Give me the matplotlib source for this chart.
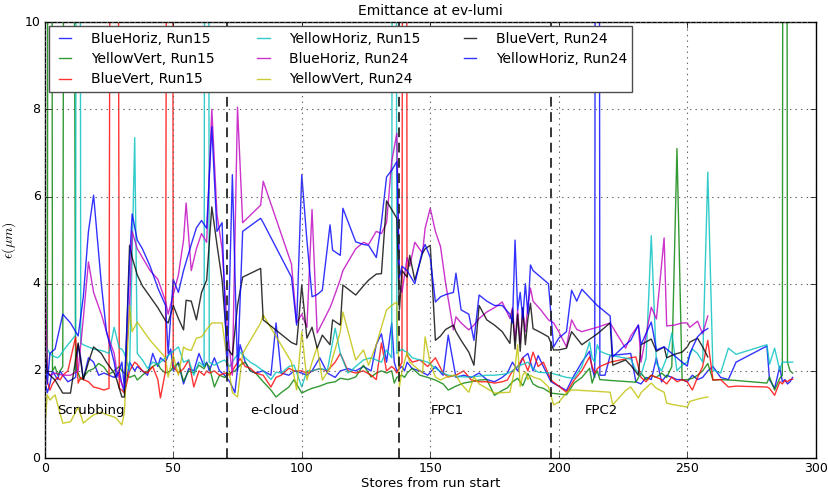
import matplotlib
matplotlib.use('Agg')
import matplotlib.pyplot as plt

plt.style.use('classic')

# store indices (stores from run start) for each run
stores15 = [0, 1, 2, 3, 4, 5, 6, 7, 9, 12,
            13, 14, 15, 17, 19, 21, 23, 25, 27, 29,
            30, 31, 33, 35, 36, 38, 40, 42, 44, 45,
            47, 49, 50, 52, 54, 56, 58, 60, 62, 63,
            64, 66, 68, 70, 72, 74, 76, 78, 80, 82,
            85, 88, 90, 92, 95, 97, 100, 102, 104, 107,
            110, 113, 115, 118, 121, 124, 127, 129, 131, 133,
            135, 136, 137, 139, 140, 141, 143, 146, 149, 152,
            155, 157, 160, 163, 166, 169, 172, 175, 178, 180,
            182, 184, 186, 188, 190, 192, 194, 197, 203, 206,
            209, 212, 213, 214, 215, 216, 218, 220, 228, 230,
            232, 234, 236, 238, 240, 242, 244, 246, 248, 250,
            252, 254, 256, 258, 260, 263, 266, 269, 281, 282,
            284, 286, 287, 288, 289, 290, 291]

stores24 = [0, 1, 2, 4, 7, 10, 13, 15, 17, 19,
            22, 24, 27, 28, 30, 31, 33, 34, 36, 38,
            41, 44, 47, 48, 50, 52, 54, 55, 57, 59,
            61, 63, 65, 67, 69, 71, 73, 75, 77, 84,
            85, 96, 98, 100, 102, 104, 106, 108, 111, 112,
            115, 116, 121, 124, 126, 129, 131, 133, 135, 137,
            138, 139, 141, 142, 144, 147, 148, 150, 152, 154,
            156, 159, 160, 162, 165, 167, 169, 172, 175, 178,
            181, 182, 183, 184, 185, 186, 187, 188, 189, 190,
            193, 196, 198, 200, 203, 205, 207, 209, 215, 220,
            221, 226, 228, 231, 232, 236, 238, 241, 242, 245,
            248, 250, 251, 254, 256, 258]

# emittance in um, Run15
blue_horiz15 = [1.8, 1.5, 1.7, 2.0, 1.9, 1.8, 2.0, 1.9, 1.75, 1.85,
                2.6, 2.3, 1.8, 2.3, 2.2, 1.9, 1.95, 1.9, 1.85, 2.0,
                1.7, 1.5, 2.2, 2.0, 2.1, 2.0, 1.9, 2.4, 2.1, 2.3,
                2.2, 2.5, 2.0, 2.2, 1.7, 2.05, 2.0, 2.4, 2.1, 2.2,
                2.0, 2.3, 2.0, 1.9, 1.75, 1.5, 2.6, 2.2, 2.0, 1.95,
                2.0, 1.9, 3.1, 1.95, 1.9, 2.0, 1.95, 1.9, 2.0, 2.3,
                1.95, 1.85, 2.0, 2.05, 2.0, 2.1, 2.0, 2.6, 2.85, 2.2,
                3.1, 2.2, 2.0, 2.1, 2.0, 2.2, 2.05, 2.0, 1.9, 2.1,
                1.9, 2.82, 1.85, 1.9, 1.85, 1.95, 1.8, 1.75, 1.85, 1.95,
                2.2, 2.0, 2.3, 2.4, 2.0, 2.35, 2.1, 1.75, 1.55, 1.9,
                2.2, 2.45, 2.05, 1.85, 60.0, 1.9, 1.9, 2.35, 2.4, 1.75,
                1.7, 1.85, 1.8, 2.3, 1.75, 1.9, 1.85, 1.8, 1.8, 1.75,
                1.9, 1.8, 1.85, 2.0, 2.1, 1.85, 1.8, 2.2, 2.57, 1.8,
                1.6, 2.1, 1.75, 1.8, 1.7, 1.75, 1.85]

yellow_vert15 = [2.0, 2.1, 60.0, 2.0, 2.1, 1.9, 2.0, 2.1, 60.0, 2.0,
                 1.95, 1.8, 1.85, 2.0, 2.05, 2.17, 2.09, 1.92, 2.0, 2.1,
                 2.0, 1.95, 1.85, 1.9, 1.79, 1.9, 2.0, 2.1, 2.17, 2.05,
                 1.95, 2.0, 2.1, 2.17, 1.76, 2.0, 1.95, 2.13, 2.05, 2.17,
                 2.1, 1.63, 1.9, 1.85, 1.95, 2.0, 2.13, 2.2, 2.0, 1.95,
                 1.75, 1.56, 1.4, 1.5, 1.63, 1.8, 1.49, 1.55, 1.6, 1.65,
                 1.72, 1.75, 1.83, 1.8, 1.86, 2.13, 1.86, 1.95, 2.0, 1.95,
                 2.0, 1.72, 1.85, 1.9, 1.85, 1.95, 2.06, 1.9, 1.85, 1.79,
                 1.7, 1.56, 1.65, 1.72, 1.75, 1.79, 1.8, 1.44, 1.55, 1.61,
                 1.75, 1.83, 1.66, 1.94, 1.7, 1.63, 1.6, 1.49, 1.45, 1.72,
                 1.85, 2.06, 1.72, 1.9, 2.0, 1.8, 1.79, 1.78, 1.75, 1.74,
                 1.95, 1.8, 1.9, 1.85, 1.95, 1.85, 2.1, 7.1, 1.79, 1.8,
                 1.83, 1.9, 2.0, 2.17, 1.79, 1.8, 1.79, 1.78, 1.72, 1.86,
                 1.56, 1.83, 1.9, 60.0, 2.2, 2.0, 1.95]

blue_vert15 = [1.95, 1.75, 1.56, 1.7, 1.79, 1.85, 1.79, 1.9, 2.0, 2.78,
               1.72, 1.85, 1.8, 1.75, 1.63, 1.6, 1.56, 1.6, 60.0, 1.6,
               1.56, 1.49, 2.0, 2.2, 2.15, 2.0, 1.95, 2.1, 1.8, 1.38,
               2.0, 60.0, 2.1, 1.95, 2.05, 2.25, 1.63, 2.0, 1.9, 2.0,
               1.95, 2.0, 1.9, 1.95, 1.9, 2.1, 2.28, 2.1, 2.06, 1.95,
               1.9, 1.63, 1.85, 1.9, 2.06, 2.0, 2.0, 1.95, 2.0, 2.05,
               2.0, 2.2, 2.4, 2.0, 1.95, 2.0, 1.9, 1.8, 2.64, 2.0,
               2.1, 2.05, 1.95, 2.2, 60.0, 2.35, 2.2, 2.25, 2.1, 2.3,
               1.95, 1.86, 1.9, 2.0, 1.79, 1.75, 1.75, 1.72, 1.75, 1.79,
               2.0, 2.1, 2.3, 2.0, 2.43, 2.1, 2.2, 1.79, 1.51, 1.79,
               2.0, 2.32, 2.1, 1.95, 2.05, 2.1, 2.15, 2.2, 2.3, 2.32,
               1.85, 1.75, 1.9, 1.85, 1.8, 1.7, 1.86, 1.75, 1.8, 1.75,
               1.56, 1.85, 2.1, 2.7, 1.79, 1.8, 1.63, 1.65, 1.63, 1.6,
               1.44, 1.75, 1.7, 1.78, 1.75, 1.8, 1.81]

yellow_horiz15 = [2.6, 2.5, 2.4, 2.35, 2.32, 2.3, 2.35, 2.45, 2.6, 2.82,
                  60.0, 2.64, 2.6, 2.55, 2.5, 2.48, 2.45, 2.4, 3.0, 2.52,
                  2.5, 2.4, 2.0, 7.35, 2.4, 2.25, 2.06, 2.2, 2.15, 2.2,
                  2.3, 2.4, 2.45, 2.55, 2.2, 2.25, 1.9, 2.2, 2.1, 60.0,
                  2.2, 2.13, 2.2, 2.25, 2.1, 2.3, 2.43, 2.3, 2.2, 2.13,
                  2.0, 1.8, 1.97, 1.95, 2.1, 2.13, 1.63, 2.0, 2.0, 2.05,
                  2.02, 2.98, 2.4, 1.95, 2.1, 2.25, 2.3, 2.25, 2.2, 2.48,
                  2.3, 60.0, 2.4, 2.5, 2.45, 2.43, 2.3, 2.25, 2.2, 2.06,
                  1.95, 1.9, 1.88, 1.86, 1.86, 1.88, 1.9, 1.9, 1.92, 1.94,
                  2.0, 2.1, 2.15, 2.2, 2.05, 1.97, 1.96, 1.95, 1.85, 1.83,
                  2.1, 2.66, 2.3, 2.2, 2.6, 2.45, 2.4, 2.36, 2.27, 2.02,
                  1.9, 2.3, 5.1, 2.17, 2.0, 2.3, 2.87, 2.0, 2.13, 2.2,
                  2.5, 2.4, 2.2, 6.56, 2.02, 1.95, 2.52, 2.38, 2.6, 2.15,
                  2.52, 2.02, 2.2, 2.2, 2.2, 2.2, 2.2]

# emittance in um, Run24
blue_horiz24 = [4.7, 2.0, 1.9, 1.95, 1.9, 1.9, 2.0, 3.2, 4.5, 3.8,
                3.3, 2.9, 2.4, 2.0, 1.7, 1.6, 3.5, 5.2, 4.8, 4.6,
                4.3, 4.1, 3.6, 3.3, 3.75, 4.2, 5.0, 5.85, 4.3, 4.8,
                5.15, 4.95, 8.0, 5.6, 4.8, 3.0, 1.9, 8.05, 5.4, 5.8,
                6.35, 4.45, 3.1, 3.3, 3.0, 5.7, 2.87, 3.1, 3.45, 3.6,
                4.1, 4.3, 4.8, 4.95, 4.9, 5.2, 5.15, 5.4, 6.8, 7.45,
                4.0, 3.8, 4.6, 4.4, 4.95, 4.7, 5.27, 5.73, 5.2, 4.85,
                4.0, 2.94, 3.24, 3.1, 2.94, 3.05, 3.2, 3.35, 3.45, 3.58,
                3.2, 3.45, 2.7, 3.4, 2.64, 3.4, 2.9, 3.5, 3.9, 3.6,
                3.4, 3.17, 3.1, 2.9, 2.55, 3.17, 2.95, 2.9, 3.0, 3.1,
                3.0, 2.52, 2.8, 3.05, 2.2, 3.46, 3.19, 5.05, 3.03, 3.05,
                3.1, 3.1, 3.0, 3.14, 2.85, 3.26]

yellow_vert24 = [0.71, 1.45, 1.33, 1.45, 0.8, 0.83, 1.17, 0.8, 0.9, 0.99,
                 1.05, 1.0, 0.94, 0.9, 0.76, 1.05, 3.5, 2.9, 3.12, 2.95,
                 2.7, 2.5, 2.3, 1.86, 2.36, 1.9, 2.55, 2.5, 2.47, 2.75,
                 2.78, 2.95, 3.1, 3.1, 3.1, 2.25, 1.5, 1.4, 2.4, 3.1,
                 3.28, 2.2, 1.56, 2.9, 1.79, 2.2, 2.55, 1.79, 2.06, 2.3,
                 2.9, 3.35, 2.25, 2.48, 2.13, 2.6, 3.0, 3.4, 3.5, 3.58,
                 1.63, 2.0, 2.43, 2.2, 2.1, 1.95, 2.78, 2.17, 1.86, 1.79,
                 1.85, 1.9, 1.9, 1.7, 1.51, 1.86, 1.7, 1.6, 1.49, 1.5,
                 1.51, 1.79, 2.1, 2.6, 1.64, 1.9, 1.98, 1.8, 1.9, 1.86,
                 1.8, 1.63, 1.22, 1.28, 1.5, 1.56, 1.56, 1.55, 1.53, 1.51,
                 1.22, 1.55, 1.63, 1.38, 1.5, 1.72, 1.6, 1.51, 1.26, 1.22,
                 1.19, 1.17, 1.3, 1.35, 1.38, 1.4]

blue_vert24 = [2.55, 1.95, 1.9, 1.79, 1.49, 1.49, 2.64, 1.8, 2.2, 2.55,
               2.4, 2.2, 1.95, 1.8, 1.4, 1.4, 4.88, 4.6, 4.2, 3.95,
               3.7, 3.45, 3.15, 3.1, 3.5, 3.2, 2.94, 3.62, 3.6, 3.17,
               3.8, 4.08, 5.76, 4.9, 4.08, 2.52, 2.36, 3.5, 4.15, 4.35,
               3.17, 2.65, 2.6, 3.97, 2.75, 3.0, 2.52, 2.82, 2.6, 3.17,
               3.05, 3.97, 3.74, 3.95, 4.08, 4.22, 4.23, 5.9, 5.7, 5.5,
               3.4, 4.3, 4.15, 4.65, 4.08, 4.7, 4.8, 4.88, 2.7, 2.8,
               2.95, 3.05, 2.9, 2.7, 2.43, 2.13, 3.5, 3.17, 3.05, 2.9,
               2.63, 3.4, 2.5, 3.3, 2.45, 3.45, 2.6, 3.2, 3.55, 2.97,
               2.88, 2.78, 2.48, 2.48, 2.52, 2.9, 2.75, 2.6, 2.85, 3.1,
               2.13, 2.25, 2.13, 1.9, 2.6, 2.73, 2.45, 2.55, 2.3, 2.38,
               2.43, 2.55, 2.66, 2.75, 2.55, 2.32]

yellow_horiz24 = [2.5, 1.7, 2.4, 2.5, 3.3, 3.1, 2.8, 3.7, 5.2, 6.03,
                  4.0, 2.9, 2.2, 1.85, 2.2, 1.6, 4.5, 5.6, 5.0, 4.8,
                  4.4, 3.9, 3.5, 2.4, 4.1, 3.8, 4.3, 4.5, 4.9, 5.28,
                  5.45, 5.27, 7.6, 5.2, 5.4, 1.9, 6.5, 2.0, 5.2, 5.5,
                  5.4, 4.15, 3.05, 6.5, 5.0, 3.7, 3.75, 3.85, 5.35, 4.77,
                  4.65, 5.73, 4.96, 4.9, 4.88, 4.6, 5.4, 6.45, 6.6, 6.8,
                  4.15, 4.4, 4.3, 4.2, 4.0, 4.77, 4.9, 4.6, 3.58, 3.7,
                  3.75, 3.8, 4.24, 3.4, 3.3, 2.7, 3.74, 3.6, 3.5, 3.5,
                  3.3, 3.1, 5.0, 3.4, 3.8, 3.2, 4.0, 3.3, 4.43, 4.3,
                  4.15, 4.0, 2.55, 2.75, 2.9, 3.85, 3.6, 3.87, 3.5, 3.26,
                  2.32, 2.6, 2.7, 3.05, 2.6, 3.12, 2.48, 2.55, 2.5, 2.35,
                  2.2, 2.11, 2.4, 2.78, 2.9, 2.97]

SERIES = [
    (stores15, blue_horiz15,   'b', 'BlueHoriz, Run15'),
    (stores15, yellow_vert15,  'g', 'YellowVert, Run15'),
    (stores15, blue_vert15,    'r', 'BlueVert, Run15'),
    (stores15, yellow_horiz15, 'c', 'YellowHoriz, Run15'),
    (stores24, blue_horiz24,   'm', 'BlueHoriz, Run24'),
    (stores24, yellow_vert24,  'y', 'YellowVert, Run24'),
    (stores24, blue_vert24,    'k', 'BlueVert, Run24'),
    (stores24, yellow_horiz24, 'b', 'YellowHoriz, Run24'),
]

# period boundaries and their labels
boundaries = [71, 138, 197]
periods = [(4.7, 'Scrubbing'), (80, 'e-cloud'), (150, 'FPC1'), (210, 'FPC2')]

fig = plt.figure(figsize=(8.29, 4.92), dpi=100, facecolor='white')
ax = fig.add_axes([0.054, 0.069, 0.930, 0.886])

for xs, ys, col, lab in SERIES:
    ax.plot(xs, ys, color=col, lw=1.0, alpha=0.8, label=lab)

for b in boundaries:
    ax.axvline(b, color='0.15', ls='--', lw=1.3, dashes=(7, 4))
for x, name in periods:
    ax.text(x, 1.08, name, ha='left', va='center', fontsize=9.5)

ax.set_xlim(0, 300); ax.set_ylim(0, 10)
ax.set_xticks(range(0, 301, 50)); ax.set_yticks(range(0, 11, 2))
ax.tick_params(labelsize=9, pad=3)
ax.grid(True, color='0.4', linestyle=':', linewidth=0.8)
ax.set_title('Emittance at ev-lumi', fontsize=10)
ax.set_xlabel('Stores from run start', fontsize=9.5, labelpad=1)
ax.set_ylabel(r'$\epsilon(\mu m)$', fontsize=10)

leg = ax.legend(loc='upper left', ncol=3, fontsize=10, handlelength=1.5,
                handletextpad=1.1, columnspacing=2.8, labelspacing=0.45,
                borderaxespad=0.3, fancybox=False)
leg.get_frame().set_edgecolor('0.3')

fig.savefig('out.png', dpi=100, facecolor='white')
